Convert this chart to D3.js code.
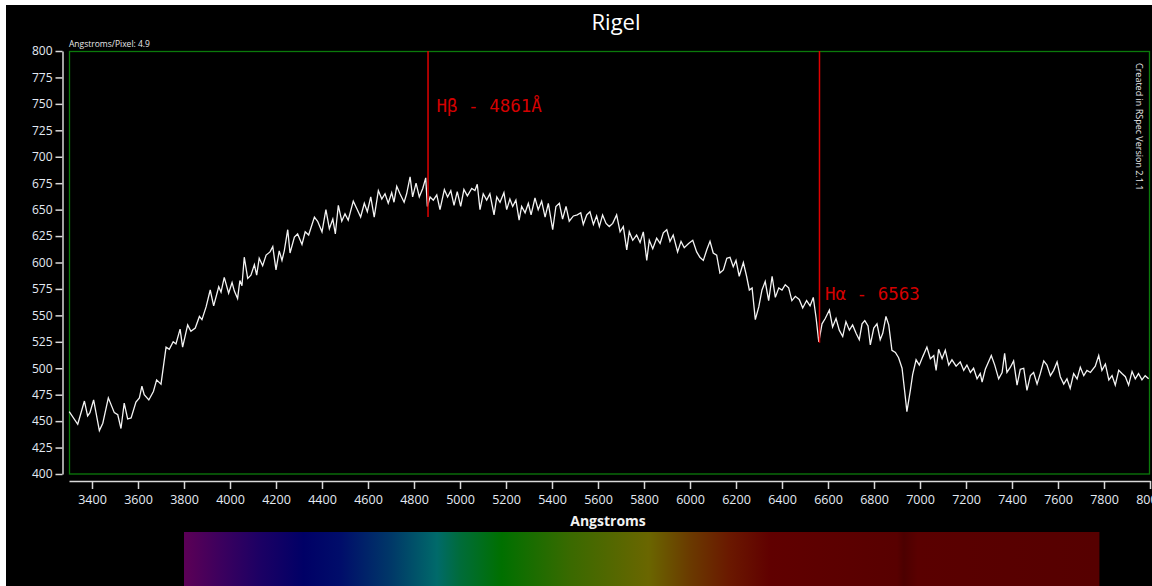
<!DOCTYPE html>
<html>
<head>
<meta charset="utf-8">
<script src="https://cdn.jsdelivr.net/npm/d3@7"></script>
<style>
  body { margin: 0; background: #fff; }
  svg { display: block; }
  .axis text { fill: #e4eaf3; font-family: "Open Sans", sans-serif; font-size: 12px; }
  .axis path, .axis line { stroke: #d8d8d8; stroke-width: 1.5; }
</style>
</head>
<body>
<svg width="1152" height="586"></svg>
<script>
// Rigel spectrum
const wavelength = [
  3301, 3338, 3367, 3381, 3391, 3407, 3432, 3447, 3471, 3497, 3512, 3526, 3540, 3555, 3570, 3591,
  3606, 3617, 3627, 3647, 3667, 3681, 3700, 3722, 3736, 3753, 3765, 3783, 3794, 3816, 3830, 3849,
  3867, 3878, 3896, 3914, 3929, 3951, 3961, 3975, 3994, 4009, 4019, 4033, 4043, 4052, 4062, 4077,
  4091, 4106, 4116, 4127, 4142, 4157, 4174, 4186, 4200, 4214, 4226, 4236, 4251, 4261, 4280, 4294,
  4313, 4327, 4342, 4367, 4381, 4400, 4417, 4432, 4447, 4458,
  4471, 4486, 4500, 4514, 4536, 4551, 4568, 4584, 4597, 4612, 4627, 4645, 4660, 4674, 4688, 4703,
  4713, 4725, 4739, 4757, 4768, 4783, 4794, 4809, 4823, 4838, 4851, 4858, 4870, 4884, 4899, 4913,
  4932, 4946, 4960, 4974, 4988, 5003, 5017, 5032, 5051, 5065, 5075, 5087, 5101, 5116, 5130, 5148,
  5160, 5174, 5191, 5203, 5217, 5229, 5243, 5257, 5268, 5283, 5297, 5309, 5326, 5340, 5355, 5370,
  5384, 5403, 5417, 5432, 5446, 5461, 5475, 5493, 5510, 5525, 5536, 5551, 5565, 5580, 5594, 5606,
  5620, 5635, 5649, 5664, 5681, 5696, 5710, 5725, 5736, 5751, 5768, 5783, 5797, 5812, 5823, 5838,
  5855, 5870, 5884, 5899, 5913, 5927, 5946, 5961, 5975, 5994, 6012, 6029, 6043, 6058, 6073, 6087,
  6101, 6116, 6130, 6145, 6160, 6174, 6188, 6200, 6214, 6232, 6246, 6258, 6270, 6284, 6299, 6313,
  6327, 6342, 6357, 6371, 6386, 6400, 6414, 6429, 6443, 6458, 6475, 6490, 6507, 6522, 6536, 6548,
  6560, 6574, 6588, 6606, 6620, 6635, 6649, 6664, 6678, 6693, 6707, 6722, 6736,
  6748, 6760, 6774, 6784, 6799, 6813, 6827, 6838, 6852, 6864, 6878, 6893, 6907, 6922, 6933, 6943,
  6958, 6968, 6983, 6997, 7012, 7030, 7045, 7060, 7070, 7081, 7096, 7110, 7125, 7139, 7157, 7175,
  7190, 7204, 7219, 7233, 7248, 7262, 7270, 7284, 7310, 7325, 7342, 7357, 7368, 7378, 7393, 7407,
  7422, 7436, 7451, 7465, 7480, 7494, 7509, 7523, 7538, 7552, 7567, 7581, 7596, 7610, 7625, 7639,
  7653, 7668, 7683, 7697, 7712, 7726, 7741, 7762, 7777, 7791, 7806, 7821, 7835, 7849, 7864, 7878,
  7893, 7907, 7922, 7936, 7950, 7965, 7979, 7994
]
const flux = [
  459, 447, 469, 455, 458, 470, 441, 448, 472, 458, 456, 443, 467, 452, 453, 468,
  472, 483, 475, 470, 478, 489, 485, 520, 518, 525, 523, 537, 520, 541, 535, 538,
  549, 546, 558, 574, 559, 577, 572, 586, 571, 581, 573, 566, 583, 578, 605, 585,
  588, 598, 588, 604, 597, 607, 610, 615, 593, 611, 602, 611, 631, 609, 624, 627,
  617, 629, 626, 643, 639, 629, 650, 632, 641, 627,
  654, 639, 646, 640, 658, 651, 643, 656, 648, 662, 643, 668, 660, 665, 656, 666,
  657, 672, 665, 657, 665, 681, 662, 675, 662, 670, 680, 653, 662, 659, 664, 650,
  669, 662, 668, 654, 667, 653, 669, 663, 670, 668, 674, 650, 665, 659, 665, 645,
  662, 657, 666, 650, 660, 653, 659, 640, 653, 647, 656, 645, 661, 650, 658, 643,
  656, 631, 653, 656, 641, 653, 639, 644, 645, 647, 636, 645, 648, 636, 644, 634,
  645, 637, 634, 637, 645, 629, 634, 612, 629, 621, 626, 619, 629, 602, 621, 613,
  623, 618, 628, 631, 620, 626, 610, 620, 614, 618, 621, 610, 605, 602, 612, 620,
  609, 607, 590, 593, 604, 605, 596, 602, 587, 600, 587, 574, 576, 546, 558, 574,
  582, 564, 587, 567, 576, 574, 579, 576, 564, 568, 565, 557, 564, 559, 567, 548,
  525, 542, 547, 555, 539, 547, 536, 530, 544, 536, 541, 533, 527,
  542, 545, 540, 522, 538, 542, 527, 533, 549, 541, 517, 515, 510, 500, 479, 459,
  479, 494, 508, 503, 511, 520, 509, 512, 498, 518, 509, 517, 503, 508, 502, 506,
  498, 503, 496, 500, 490, 495, 487, 499, 512, 503, 490, 496, 514, 496, 501, 507,
  484, 499, 500, 479, 493, 496, 485, 495, 507, 503, 493, 498, 506, 492, 485, 490,
  481, 495, 490, 501, 493, 498, 496, 502, 512, 498, 504, 489, 493, 484, 498, 495,
  492, 484, 497, 490, 495, 489, 493, 490
]

const xTicks = [3400, 3600, 3800, 4000, 4200, 4400, 4600, 4800, 5000, 5200, 5400, 5600, 5800,
  6000, 6200, 6400, 6600, 6800, 7000, 7200, 7400, 7600, 7800, 8000]
const yTicks = [400, 425, 450, 475, 500, 525, 550, 575, 600, 625, 650, 675, 700, 725, 750, 775, 800]

const lineWave = [4861, 6563]
const lineFlux = [643, 524]
const lineLabel = ["Hβ - 4861Å", "Hα - 6563"]
const labelFlux = [742, 565]

// colour strip under the axis
const stripWave = [3800, 3960, 4130, 4320, 4480, 4700, 4900, 5000, 5180, 5480, 5820, 6000, 6174, 6350, 6900, 6930, 6990, 7780]
const stripColor = ["#5c0056", "#3c005e", "#1c0064", "#000066", "#000d6a", "#003868", "#006a6a", "#006c3a",
  "#007000", "#3a6a00", "#6a6600", "#6a3a00", "#6a1800", "#600000", "#580000", "#4c0000", "#5a0000", "#560000"]

const svg = d3.select("svg")

svg.append("rect").attr("x", 6).attr("y", 5).attr("width", 1146).attr("height", 581).attr("fill", "#000")

var x = d3.scaleLinear().domain([3300, 8000]).range([69, 1150])
var y = d3.scaleLinear().domain([400, 800]).range([474, 51])

// plot frame
svg.append("rect")
    .attr("x", 69.5).attr("y", 51.5)
    .attr("width", 1080).attr("height", 422.5)
    .attr("fill", "none")
    .attr("stroke", "#0b7a0b")
    .attr("stroke-width", 1.3)

svg.append("g")
    .attr("class", "axis")
    .attr("transform", "translate(62.5,0)")
    .call(d3.axisLeft(y).tickValues(yTicks).tickSize(7).tickSizeOuter(0).tickPadding(3))

svg.append("g")
    .attr("class", "axis")
    .attr("transform", "translate(0,481)")
    .call(d3.axisBottom(x).tickValues(xTicks).tickFormat(d3.format("d")).tickSize(8).tickSizeOuter(0).tickPadding(6))
    .selectAll("text")
    .style("font-size", "12.5px")

svg.append("text")
    .attr("x", 616).attr("y", 30)
    .attr("text-anchor", "middle")
    .attr("fill", "#fff")
    .style("font-family", "Open Sans, sans-serif")
    .style("font-size", "22px")
    .text("Rigel")

svg.append("text")
    .attr("x", 69).attr("y", 47)
    .attr("fill", "#e8e8e8")
    .style("font-family", "Open Sans, sans-serif")
    .style("font-size", "8.5px")
    .text("Angstroms/Pixel: 4.9")

svg.append("text")
    .attr("transform", "translate(1136,63) rotate(90)")
    .attr("fill", "#e8e8e8")
    .style("font-family", "Open Sans, sans-serif")
    .style("font-size", "9px")
    .text("Created in RSpec Version 2.1.1")

svg.append("text")
    .attr("x", 608).attr("y", 526)
    .attr("text-anchor", "middle")
    .attr("fill", "#f2f2f2")
    .style("font-family", "Open Sans, sans-serif")
    .style("font-size", "14px")
    .style("font-weight", "bold")
    .text("Angstroms")

// spectrum line
var pts = wavelength.map((w, i) => [w, flux[i]])
svg.append("path")
    .datum(pts)
    .attr("fill", "none")
    .attr("stroke", "#f4f4f4")
    .attr("stroke-width", 1.3)
    .attr("d", d3.line().x(d => x(d[0])).y(d => y(d[1])))

// hydrogen lines
var labelShift = [8.5, 5.5]
lineWave.forEach((w, i) => {
    svg.append("line")
        .attr("x1", x(w)).attr("x2", x(w))
        .attr("y1", y(800)).attr("y2", y(lineFlux[i]))
        .attr("stroke", "#e00000")
        .attr("stroke-width", 1.5)
    svg.append("text")
        .attr("x", x(w) + labelShift[i]).attr("y", y(labelFlux[i]))
        .attr("fill", "#d40000")
        .style("font-family", "DejaVu Sans Mono, monospace")
        .style("font-size", "17.5px")
        .text(lineLabel[i])
})

// colour strip
var grad = svg.append("defs").append("linearGradient")
    .attr("id", "strip")
    .attr("gradientUnits", "userSpaceOnUse")
    .attr("x1", x(3800)).attr("x2", x(7780))
    .attr("y1", 0).attr("y2", 0)
grad.selectAll("stop")
    .data(stripWave)
    .join("stop")
    .attr("offset", d => (d - 3800) / (7780 - 3800))
    .attr("stop-color", (d, i) => stripColor[i])

svg.append("rect")
    .attr("x", x(3800)).attr("y", 532)
    .attr("width", x(7780) - x(3800)).attr("height", 54)
    .attr("fill", "url(#strip)")
</script>
</body>
</html>
